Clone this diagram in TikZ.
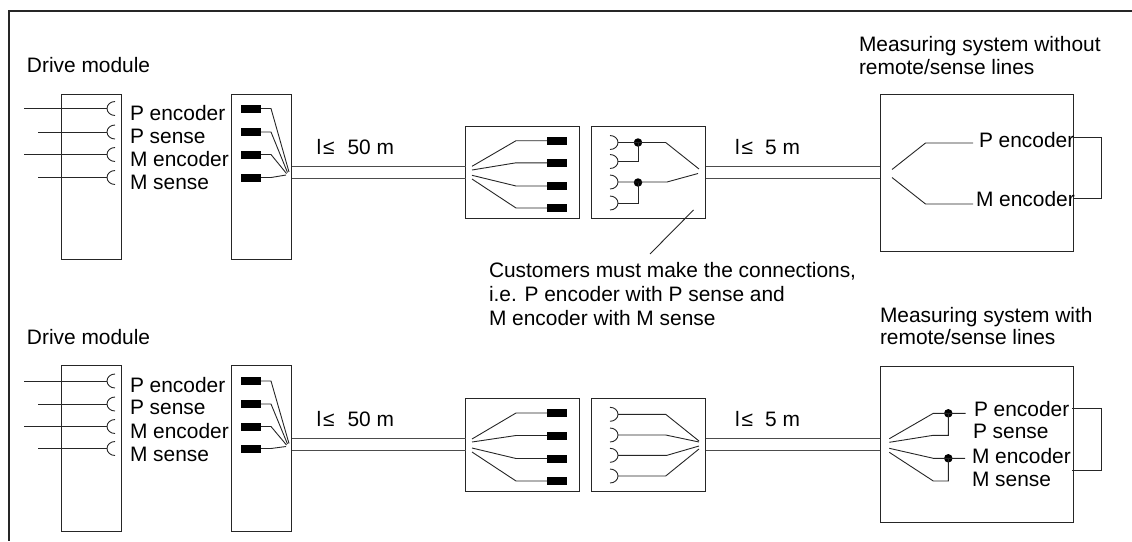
\documentclass[tikz,border=0pt]{standalone}
\usepackage{fontspec}
\setmainfont{Liberation Sans}
\begin{document}
\begin{tikzpicture}[x=1pt,y=-1pt,
  wire/.style={draw=black!85,line width=0.9pt,line join=miter},
  cable/.style={draw=black!70,line width=1.1pt},
  boxw/.style={draw=black!85,line width=1pt,minimum width=#1,inner sep=0pt,outer sep=0pt},
  lbl/.style={anchor=base west,inner sep=0pt,outer sep=0pt,font=\fontsize{20.9}{24}\selectfont,text=black},
  plug/.style={fill=black,draw=none,minimum width=20pt,minimum height=8pt,inner sep=0pt,outer sep=0pt},
  dotj/.style={circle,fill=black,draw=none,minimum size=8.5pt,inner sep=0pt,outer sep=0pt}]
\useasboundingbox (0,0) rectangle (1132,541);
\coordinate (frameTR) at (1132,11);
\coordinate (frameTL) at (9,11);
\coordinate (frameBL) at (9,541);
\draw[wire,line width=1.1pt] (frameTR) -- (frameTL) -- (frameBL);

% ---------- upper row
\node[lbl] (dm1) at (27,72) {Drive module};
\node[boxw=60pt,minimum height=165.5pt] (a1) at (91.5,177.2) {};
\node[boxw=60pt,minimum height=165.5pt] (b1) at (261.5,177.2) {};
\foreach \n/\y/\xs/\t/\by in {1/108.5/24/P encoder/120,2/132/38/P sense/143,3/154.5/24/M encoder/166.5,4/177.5/38/M sense/189}{
  \coordinate (as\n) at (\xs,\y);
  \coordinate (ac\n) at (107,\y);
  \draw[wire] (as\n) -- (ac\n);
  \draw[wire] (115,\y-7) arc[start angle=90,end angle=270,x radius=8,y radius=-7];
  \node[lbl] (al\n) at (130,\by) {\t};
  \node[plug] (bp\n) at (251,\y) {};
}
\coordinate (bf1) at (289,172); \coordinate (bf2) at (287.5,172.5);
\coordinate (bf3) at (286.5,173.5); \coordinate (bf4) at (286,175);
\foreach \n in {1,2,3,4}{\draw[wire] (bp\n.east) -- ++(10,0) -- (bf\n);}
\node[lbl] (len1) at (316.5,154.5) {l\hspace{2pt}≤\hspace{13pt}50 m};
\node[boxw=114pt,minimum height=91.6pt] (c1) at (522.7,172.5) {};
\node[boxw=114pt,minimum height=91.6pt] (d1) at (648.7,172.5) {};
\draw[cable] (b1.east |- 0,166.7) -- (c1.west |- 0,166.7);
\draw[cable] (b1.east |- 0,178.7) -- (c1.west |- 0,178.7);
\foreach \n/\y/\fy in {1/140.7/166.3,2/162.8/170,3/186/175.3,4/208/179}{
  \node[plug] (cp\n) at (557,\y) {};
  \coordinate (cf\n) at (472,\fy);
  \draw[wire] (cf\n) -- (516,\y) -- (cp\n.west);
}
\foreach \n/\y in {1/142.5,2/161.5,3/182,4/203}{
  \coordinate (da\n) at (618,\y);
  \draw[wire] (610,\y-7) arc[start angle=90,end angle=-90,x radius=8,y radius=-7];
}
\node[dotj] (dj1) at (638,142.5) {};
\node[dotj] (dj2) at (638,182.5) {};
\coordinate (df1) at (699,169); \coordinate (df2) at (698,173.5);
\draw[wire] (da1) -- (665.7,142.5) -- (df1);
\draw[wire] (da2) -- (dj1 |- da2) -- (dj1.center);
\draw[wire] (da3) -- (667,182) -- (df2);
\draw[wire] (da4) -- (dj2 |- da4) -- (dj2.center);
\coordinate (ldA) at (693.5,210); \coordinate (ldB) at (650,254);
\draw[wire] (ldA) -- (ldB);
\node[lbl] (len2) at (735,154.5) {l\hspace{2pt}≤\hspace{12pt}5 m};
\node[boxw=193.3pt,minimum height=156.7pt] (e1) at (976.7,172.7) {};
\draw[cable] (d1.east |- 0,166.7) -- (e1.west |- 0,166.7);
\draw[cable] (d1.east |- 0,178.7) -- (e1.west |- 0,178.7);
\node[lbl] (ttl1a) at (859,51) {Measuring system without};
\node[lbl] (ttl1b) at (859,74) {remote/sense lines};
\coordinate (ef1) at (892,169.5); \coordinate (ef2) at (892,177.5);
\node[lbl] (ep) at (979,147.5) {P encoder};
\node[lbl] (em) at (976,206.5) {M encoder};
\draw[wire] (ef1) -- (925.5,143) -- (973,143);
\draw[wire] (ef2) -- (925.5,204) -- (973,204);
\coordinate (eL1) at (1073,137); \coordinate (eL2) at (1073,198.7);
\draw[wire] (eL1) -- (1101,137) -- (1101,198.7) -- (eL2);
\node[lbl] (note1) at (489,277.5) {Customers must make the connections,};
\node[lbl] (note2) at (489,301) {i.e. P encoder with P sense and};
\node[lbl] (note3) at (489,325) {M encoder with M sense};

% ---------- lower row
\node[lbl] (dm2) at (27,344) {Drive module};
\node[boxw=60pt,minimum height=165.5pt] (a2) at (91.5,448.7) {};
\node[boxw=60pt,minimum height=165.5pt] (b2) at (261.5,448.7) {};
\foreach \n/\y/\xs/\t/\by in {1/381/24/P encoder/392,2/404/38/P sense/414.5,3/426.5/24/M encoder/438,4/448.5/38/M sense/461}{
  \coordinate (gs\n) at (\xs,\y);
  \coordinate (gc\n) at (107,\y);
  \draw[wire] (gs\n) -- (gc\n);
  \draw[wire] (115,\y-7) arc[start angle=90,end angle=270,x radius=8,y radius=-7];
  \node[lbl] (gl\n) at (130,\by) {\t};
  \node[plug] (hp\n) at (251,\y) {};
}
\coordinate (hf1) at (289,443.5); \coordinate (hf2) at (287.5,444);
\coordinate (hf3) at (286.5,445); \coordinate (hf4) at (286,446.5);
\foreach \n in {1,2,3,4}{\draw[wire] (hp\n.east) -- ++(10,0) -- (hf\n);}
\node[lbl] (len3) at (316.5,426) {l\hspace{2pt}≤\hspace{13pt}50 m};
\node[boxw=114pt,minimum height=92.6pt] (c2) at (522.7,445) {};
\node[boxw=114pt,minimum height=92.6pt] (d2) at (648.7,445) {};
\draw[cable] (b2.east |- 0,438.7) -- (c2.west |- 0,438.7);
\draw[cable] (b2.east |- 0,450.7) -- (c2.west |- 0,450.7);
\foreach \n/\y/\fy in {1/413/439,2/435.5/442,3/458.5/448,4/481/452}{
  \node[plug] (kp\n) at (557,\y) {};
  \coordinate (kf\n) at (472,\fy);
  \draw[wire] (kf\n) -- (516,\y) -- (kp\n.west);
}
\foreach \n/\y/\fy/\mx in {1/414.3/441/665.7,2/435/442/665.7,3/455.3/446/667,4/476/449/665.7}{
  \coordinate (ma\n) at (618,\y);
  \coordinate (mf\n) at (699,\fy);
  \draw[wire] (610,\y-7) arc[start angle=90,end angle=-90,x radius=8,y radius=-7];
  \draw[wire] (ma\n) -- (\mx,\y) -- (mf\n);
}
\node[lbl] (len4) at (735,426) {l\hspace{2pt}≤\hspace{12pt}5 m};
\node[boxw=193.3pt,minimum height=156pt] (e2) at (976.7,444.7) {};
\draw[cable] (d2.east |- 0,438.7) -- (e2.west |- 0,438.7);
\draw[cable] (d2.east |- 0,450.7) -- (e2.west |- 0,450.7);
\node[lbl] (ttl2a) at (880,322) {Measuring system with};
\node[lbl] (ttl2b) at (880,344.5) {remote/sense lines};
\node[dotj] (nj1) at (948.3,413.3) {};
\node[dotj] (nj2) at (948.3,458.3) {};
\coordinate (nf1) at (889.3,438.7); \coordinate (nf2) at (889.3,442.3);
\coordinate (nf3) at (889.3,448.3); \coordinate (nf4) at (889.3,452.3);
\draw[wire] (nf1) -- (933.3,413.3) -- (965.7,413.3);
\draw[wire] (nf2) -- (933.3,435.3) -- (nj1 |- 0,435.3) -- (nj1.center);
\draw[wire] (nf3) -- (933.3,458.3) -- (965,458.3);
\draw[wire] (nf4) -- (933.3,481) -- (nj2 |- 0,481) -- (nj2.center);
\node[lbl] (np) at (974,416) {P encoder};
\node[lbl] (ns) at (973,438) {P sense};
\node[lbl] (nm) at (972,463) {M encoder};
\node[lbl] (nt) at (972,486.5) {M sense};
\coordinate (nL1) at (1072,408.7); \coordinate (nL2) at (1072,470.7);
\draw[wire] (nL1) -- (1101,408.7) -- (1101,470.7) -- (nL2);
\end{tikzpicture}
\end{document}
